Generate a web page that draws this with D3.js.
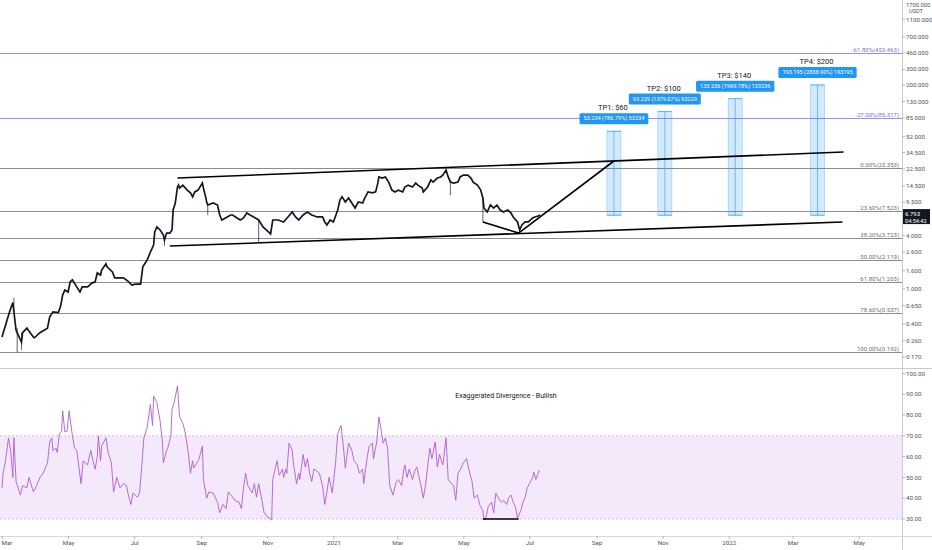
<!DOCTYPE html>
<html><head><meta charset="utf-8">
<script src="https://cdn.jsdelivr.net/npm/d3@7"></script>
<style>body{margin:0;background:#fff;} svg{display:block;font-family:Roboto,"Noto Sans",sans-serif;}</style>
</head><body><svg id="c" width="932" height="550"></svg>
<script>
// ---------- data ----------
const START = Date.UTC(2020, 2, 1); // day offsets below count from 2020-03-01
const priceDay = [0,7,10,13,18,19,23,26,29,30,35,42,44,47,52,54,56,58,61,63,65,69,72,74,79,83,86,88,91,92,96,97,102,104,107,112,116,120,123,128,130,134,137,140,141,143,146,149,150,152,155,157,158,160,162,163,164,167,171,174,176,178,181,185,186,188,189,190,195,199,201,203,208,211,213,217,220,223,226,229,234,237,241,246,248,250,255,260,264,268,271,274,278,282,286,291,296,298,300,303,306,310,312,314,317,320,323,326,329,333,335,338,342,345,347,348,351,354,357,360,363,366,370,372,375,379,382,384,388,389,393,396,398,402,405,407,410,412,414,417,421,423,426,430,433,435,439,442,444,445,448,451,454,457,460,463,467,470,472,476,478,480,483,486,490,492,495,497];
const priceClose = [0.285,0.55,0.70,0.34,0.25,0.32,0.36,0.32,0.285,0.28,0.32,0.36,0.48,0.55,0.54,0.63,0.85,0.97,0.92,1.20,1.26,1.05,0.92,1.05,1.05,1.16,1.20,1.51,1.43,1.63,1.91,1.77,1.55,1.33,1.33,1.33,1.23,1.10,1.13,1.13,1.77,2.11,2.60,3.12,4.38,4.99,4.61,4.05,3.55,4.26,4.26,4.61,7.75,9.30,14.1,14.8,13.7,14.8,13.0,12.1,10.9,12.4,13.0,15.6,13.7,10.9,9.54,8.83,9.30,8.83,6.81,5.98,6.47,6.81,6.81,6.30,5.98,6.30,7.17,6.81,6.30,5.98,4.99,4.38,4.16,5.98,5.98,5.68,6.47,7.36,6.47,5.98,6.81,7.36,6.81,6.47,6.47,5.68,5.25,5.98,5.68,7.75,10.05,10.9,9.54,10.6,9.30,8.16,9.54,9.30,10.6,12.4,12.1,12.4,15.6,18.3,17.8,18.3,16.0,13.0,12.4,13.0,12.4,14.1,14.8,14.1,15.6,14.8,13.7,12.4,14.1,16.9,16.0,17.8,18.3,19.2,21.9,18.3,16.0,15.6,16.0,18.3,19.2,19.2,17.8,16.0,14.8,13.0,10.6,8.16,7.36,8.83,8.16,8.83,7.75,7.36,7.75,7.17,6.47,5.68,4.61,5.25,5.68,5.68,6.30,6.47,6.63,6.79];
const wickDay  = [11, 14, 18, 150, 190, 237, 414, 444];
const wickHigh = [0.79, 0.36, 0.32, 3.8, 9.0, 6.0, 17.0, 10.6];
const wickLow  = [0.55, 0.192, 0.205, 3.04, 6.8, 3.37, 11.4, 5.67];

const rsiDay = [0,1,3,5,6,8,10,11,13,17,19,23,25,29,32,35,38,42,44,46,47,50,51,53,55,56,58,60,62,65,67,69,73,75,77,79,82,84,86,88,89,91,92,96,98,101,103,106,109,112,115,116,119,121,125,127,129,131,134,137,139,140,143,146,148,149,152,153,156,157,159,162,164,167,169,172,174,176,177,180,182,185,186,189,191,195,199,201,204,207,209,213,215,219,221,223,225,227,231,233,235,237,240,242,245,247,249,250,254,256,259,260,262,263,265,268,269,272,274,275,278,280,282,284,286,288,291,293,296,298,300,302,305,308,310,313,315,317,320,323,325,328,330,333,334,337,339,342,343,346,348,350,352,354,356,358,361,364,366,369,371,372,374,376,379,381,383,386,389,391,393,395,397,400,402,404,407,408,410,412,415,417,419,421,424,426,429,431,434,436,439,441,444,445,447,449,452,454,456,458,461,463,466,468,470,472,474,476,479,481,483,485,487,490,491,493,495,496];
const rsiValue = [45,52,57,65,69,63,50,69,48,41.5,46,45,50,43,46,50,52,57,67,69,63,64,62,71,72,82,72,72,82,70,64,63,47,58,57,56,63,58,54,60,70,58,65,69,62,57,43,50,45,47,46,43,37,42.5,40.5,42.5,55,69,74,85,75,89,86,77,68,57,63,64,70,83,86,94,79,76,72,62,52,58,54.5,57,59,65,49,40,43,42.5,38,33,37,35,43,40.5,39,38,35,45,52,46,42.5,47,40.5,47,39,33,31,30.5,29.5,49,58,51,54,50,54,52,66.5,63,57,47,52,49,61,55,59,52,48,54,53,52,46,37,43,50,42.5,57,71,75,66,54.5,66.5,63,58,56,52,54,47,59,65,66.5,59,67,79,73,66.5,69,64,46,41.5,48,49,46,54,56,50,54,49,53,55,48,40,46,55,64,59,67,55,61,56,60,69,49,47,46,39,52,54.5,57,59,54,48,40,41.5,37,34,29.5,31,36,38,33,42.5,40.5,38,39,37,40.5,41.5,38,36,30.5,34,38,40.5,45,47,50,52.5,49,52,53.5];

const fibPct   = ["-61.80%","-27.00%","0.00%","23.60%","38.20%","50.00%","61.80%","78.60%","100.00%"];
const fibPrice = [453.463, 85.317, 23.353, 7.523, 3.723, 2.119, 1.203, 0.537, 0.192];

const priceTicks = [1100,700,460,300,200,130,85,52,34.5,22.5,14.5,9.5,4,2.6,1.6,1,0.65,0.4,0.26,0.17];
const rsiTicks = [100,90,80,70,60,50,40,30];
const timeTicks = ["2020-03-01","2020-05-01","2020-07-01","2020-09-01","2020-11-01","2021-01-01","2021-03-01","2021-05-01","2021-07-01","2021-09-01","2021-11-01","2022-01-01","2022-03-01","2022-05-01"];
const timeTickLabels = ["Mar","May","Jul","Sep","Nov","2021","Mar","May","Jul","Sep","Nov","2022","Mar","May"];

const tpNames  = ["TP1: $60","TP2: $100","TP3: $140","TP4: $200"];
const tpTarget = [60, 100, 140, 200];
const tpDay    = [565, 612, 677, 753];
const tpLabels = ["53.234 (786.79%) 53234","93.229 (1379.07%) 93229","133.236 (1969.78%) 133236","193.195 (2838.90%) 193195"];
const tpEntry  = 6.766;

const channelUpper = [[162, 17.8], [777, 35.0]];
const channelLower = [[155, 3.04], [776, 5.67]];
const divergencePrice = [[444, 5.67], [477, 4.26], [565, 27.7]];
const divergenceRsi = [[444, 30], [477, 30]];
const lastPrice = 6.793, countdown = "04:54:42";
const divergenceTitle = "Exaggerated Divergence - Bullish";

// ---------- scales ----------
const svg = d3.select("#c");
const W = 932, H = 550, PR = 902, PB = 366, SEP = 368, TAX = 536;
const day = d => new Date(START + d * 864e5);
const x = d3.scaleUtc().domain([new Date(START), new Date(Date.UTC(2022,5,10))]).range([2, PR]);
const y = d3.scaleLog().domain([0.1345, 1818]).range([PB, 0]);
const yr = d3.scaleLinear().domain([30, 100]).range([519, 373.4]);
const grey = "#50535e";

svg.append("defs").append("clipPath").attr("id","cp").append("rect").attr("x",0).attr("y",0).attr("width",PR).attr("height",PB);
svg.append("defs").append("clipPath").attr("id","cr").append("rect").attr("x",0).attr("y",SEP+1).attr("width",PR).attr("height",TAX-SEP-1);

// ---------- frame ----------
svg.append("line").attr("x1",PR+0.5).attr("x2",PR+0.5).attr("y1",0).attr("y2",H).attr("stroke","#c9cbd1");
svg.append("line").attr("x1",0).attr("x2",W).attr("y1",SEP+0.5).attr("y2",SEP+0.5).attr("stroke","#c9cbd1");
svg.append("line").attr("x1",0).attr("x2",W).attr("y1",TAX+0.5).attr("y2",TAX+0.5).attr("stroke","#d6d8de");

// ---------- fib lines ----------
const fg = svg.append("g");
fibPrice.forEach((p,i) => {
  const yy = Math.round(y(p)) + 0.5;
  const col = i < 2 ? "#9d8ee0" : "#8a8d96";
  fg.append("line").attr("x1",0).attr("x2",PR).attr("y1",yy).attr("y2",yy).attr("stroke",col).attr("stroke-width",1);
  fg.append("text").attr("x",899).attr("y",yy-2).attr("text-anchor","end").attr("font-size",6)
    .attr("fill", i < 2 ? "#7e6fd0" : "#6a6d78").text(`${fibPct[i]}(${p.toFixed(3)})`);
});

// ---------- TP boxes ----------
const tg = svg.append("g");
tpDay.forEach((d,i) => {
  const x0 = x(day(d-6.5)), x1 = x(day(d+6.5)), xc = x(day(d));
  const yt = y(tpTarget[i]), yb = y(tpEntry);
  tg.append("rect").attr("x",x0).attr("y",yt).attr("width",x1-x0).attr("height",yb-yt)
    .attr("fill","rgba(33,150,243,0.2)").attr("stroke","rgba(33,150,243,0.35)").attr("stroke-width",0.8);
  tg.append("line").attr("x1",xc).attr("x2",xc).attr("y1",yt).attr("y2",yb).attr("stroke","rgba(33,150,243,0.7)").attr("stroke-width",0.8);
  tg.append("line").attr("x1",x0).attr("x2",x1).attr("y1",yt).attr("y2",yt).attr("stroke","rgba(33,150,243,0.6)").attr("stroke-width",1);
  tg.append("line").attr("x1",x0).attr("x2",x1).attr("y1",yb).attr("y2",yb).attr("stroke","rgba(33,150,243,0.6)").attr("stroke-width",1);
  const t = tg.append("text").attr("x",xc).attr("y",yt-11).attr("text-anchor","middle").attr("font-size",5.6).attr("fill","#fff").text(tpLabels[i]);
  const w = t.node().getComputedTextLength() + 8;
  tg.insert("rect", () => t.node()).attr("x",xc-w/2).attr("y",yt-18).attr("width",w).attr("height",11).attr("rx",1.5).attr("fill","#2196f3");
  tg.append("text").attr("x",xc-1).attr("y",yt-21).attr("text-anchor","middle").attr("font-size",7.5).attr("fill","#131722").text(tpNames[i]);
});

// ---------- price ----------
const pg = svg.append("g").attr("clip-path","url(#cp)");
wickDay.forEach((d,i) => {
  pg.append("line").attr("x1",x(day(d))).attr("x2",x(day(d))).attr("y1",y(wickHigh[i])).attr("y2",y(wickLow[i]))
    .attr("stroke","#131722").attr("stroke-width",0.9).attr("opacity",0.75);
});
const pts = priceDay.map((d,i) => [d, priceClose[i]]);
pg.append("path").datum(pts).attr("fill","none").attr("stroke","#131722").attr("stroke-width",1.7).attr("stroke-linejoin","miter")
  .attr("d", d3.line().x(p => x(day(p[0]))).y(p => y(p[1])));
const tl = d3.line().x(p => x(day(p[0]))).y(p => y(p[1]));
[channelUpper, channelLower, divergencePrice].forEach(seg => {
  pg.append("path").datum(seg).attr("fill","none").attr("stroke","#000").attr("stroke-width",1.6).attr("d", tl);
});

// ---------- price axis ----------
const ag = svg.append("g").attr("font-size",6.2).attr("fill",grey);
priceTicks.forEach(v => {
  const yy = y(v);
  ag.append("line").attr("x1",PR).attr("x2",PR+3).attr("y1",yy).attr("y2",yy).attr("stroke","#b2b5be");
  ag.append("text").attr("x",906).attr("y",yy).attr("dy","0.35em").text(v.toFixed(3));
});
ag.append("text").attr("x",906).attr("y",4.5).attr("dy","0.35em").attr("font-size",5.8).text("1700.000");
ag.append("text").attr("x",909).attr("y",11.5).attr("dy","0.35em").attr("font-size",5.6).text("USDT");
const ly = y(lastPrice);
svg.append("rect").attr("x",PR+1).attr("y",ly-6).attr("width",27).attr("height",15).attr("fill","#131722");
svg.append("text").attr("x",905).attr("y",ly-1).attr("dy","0.35em").attr("font-size",6).attr("fill","#fff").text(lastPrice.toFixed(3));
svg.append("text").attr("x",905).attr("y",ly+6).attr("dy","0.35em").attr("font-size",5.6).attr("fill","#fff").text(countdown);

// ---------- RSI ----------
const rg = svg.append("g").attr("clip-path","url(#cr)");
rg.append("rect").attr("x",0).attr("y",yr(70)).attr("width",PR).attr("height",yr(30)-yr(70)).attr("fill","#f3e9fb");
[70,30].forEach(v => rg.append("line").attr("x1",0).attr("x2",PR).attr("y1",yr(v)).attr("y2",yr(v))
  .attr("stroke","#c7b3dc").attr("stroke-dasharray","2,2").attr("stroke-width",0.8));
rg.append("path").datum(rsiDay.map((d,i)=>[d, rsiValue[i]])).attr("fill","none").attr("stroke","#b05ccc").attr("stroke-width",0.9)
  .attr("d", d3.line().x(p => x(day(p[0]))).y(p => yr(p[1])));
rg.append("path").datum(divergenceRsi).attr("fill","none").attr("stroke","#000").attr("stroke-width",1.5)
  .attr("d", d3.line().x(p => x(day(p[0]))).y(p => yr(p[1])));
svg.append("text").attr("x",506).attr("y",398).attr("text-anchor","middle").attr("font-size",7).attr("fill","#131722").text(divergenceTitle);
const rag = svg.append("g").attr("font-size",6.2).attr("fill",grey);
rsiTicks.forEach(v => {
  rag.append("line").attr("x1",PR).attr("x2",PR+3).attr("y1",yr(v)).attr("y2",yr(v)).attr("stroke","#b2b5be");
  rag.append("text").attr("x",906).attr("y",yr(v)).attr("dy","0.35em").text(v.toFixed(2));
});

// ---------- time axis ----------
const xa = svg.append("g").attr("transform",`translate(0,${TAX})`)
  .call(d3.axisBottom(x).tickValues(timeTicks.map(s => new Date(s+"T00:00:00Z"))).tickSize(3).tickPadding(2)
    .tickFormat((d,i) => timeTickLabels[i]));
xa.select(".domain").remove();
xa.selectAll("line").attr("stroke","#b2b5be");
xa.selectAll("text").attr("font-size",6.2).attr("fill",grey).attr("font-family","Roboto,'Noto Sans',sans-serif");
xa.selectAll("text").filter((d,i) => i === 0).attr("text-anchor","start").attr("x",-1);
</script></body></html>
